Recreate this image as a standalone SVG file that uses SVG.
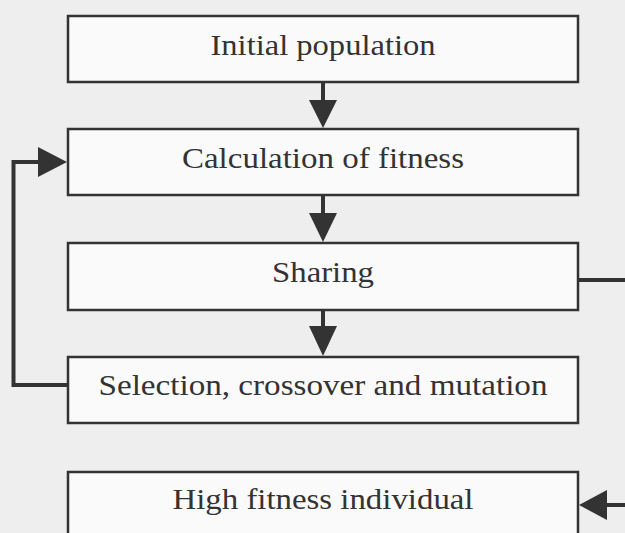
<svg xmlns="http://www.w3.org/2000/svg" width="625" height="533" viewBox="0 0 625 533">
<style>
.box{fill:#fafafa;stroke:#333;stroke-width:2.5}
.lbl{font-size:30px;fill:#333;text-anchor:middle}
.con{fill:none;stroke:#333;stroke-width:4}
.head{fill:#333}
</style>
<rect width="625" height="533" fill="#eeeeee"/>
<g id="connectors">
<line class="con" x1="323" y1="82" x2="323" y2="102"/>
<polygon class="head" points="309,100 337,100 323,128"/>
<line class="con" x1="323" y1="195" x2="323" y2="215"/>
<polygon class="head" points="309,213 337,213 323,242"/>
<line class="con" x1="323" y1="310" x2="323" y2="328"/>
<polygon class="head" points="309,326 337,326 323,356"/>
<polyline class="con" points="68,385 13.5,385 13.5,162 40,162"/>
<polygon class="head" points="38,147 38,177 67,162"/>
<line class="con" x1="578" y1="280" x2="625" y2="280"/>
<line class="con" x1="605" y1="505" x2="625" y2="505"/>
<polygon class="head" points="607,490 607,520 579,505"/>
</g>
<g id="node-initial">
<rect class="box" x="68" y="16" width="510" height="66"/>
<text class="lbl" font-family="Liberation Serif, serif" x="323" y="55" textLength="225" lengthAdjust="spacingAndGlyphs">Initial population</text>
</g>
<g id="node-fitness">
<rect class="box" x="68" y="129" width="510" height="66"/>
<text class="lbl" font-family="Liberation Serif, serif" x="323" y="168" textLength="282" lengthAdjust="spacingAndGlyphs">Calculation of fitness</text>
</g>
<g id="node-sharing">
<rect class="box" x="68" y="243" width="510" height="67"/>
<text class="lbl" font-family="Liberation Serif, serif" x="323" y="282" textLength="102" lengthAdjust="spacingAndGlyphs">Sharing</text>
</g>
<g id="node-selection">
<rect class="box" x="68" y="357" width="510" height="66"/>
<text class="lbl" font-family="Liberation Serif, serif" x="323" y="395" textLength="449" lengthAdjust="spacingAndGlyphs">Selection, crossover and mutation</text>
</g>
<g id="node-high">
<rect class="box" x="68" y="472" width="510" height="80"/>
<text class="lbl" font-family="Liberation Serif, serif" x="323" y="509" textLength="301" lengthAdjust="spacingAndGlyphs">High fitness individual</text>
</g>
</svg>
